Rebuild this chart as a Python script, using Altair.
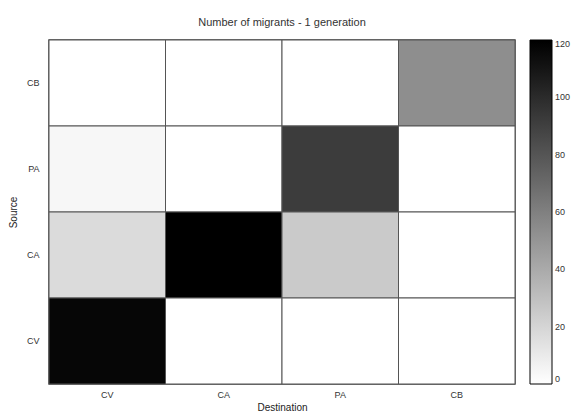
import altair as alt
import pandas as pd

destinations = ["CV", "CA", "PA", "CB"]
sources = ["CB", "PA", "CA", "CV"]  # top to bottom
# migrants[source][destination]
mig_CB = [0, 0, 0, 53]
mig_PA = [4, 0, 92, 0]
mig_CA = [17, 120, 25, 0]
mig_CV = [117, 0, 0, 0]
matrix = [mig_CB, mig_PA, mig_CA, mig_CV]
color_ticks = [0, 20, 40, 60, 80, 100, 120]

rows = []
for s, vals in zip(sources, matrix):
    for d, v in zip(destinations, vals):
        rows.append({"Source": s, "Destination": d, "Migrants": v})
df = pd.DataFrame(rows)

chart = alt.Chart(df).mark_rect(stroke="#555555", strokeWidth=1).encode(
    x=alt.X("Destination:N", sort=destinations,
            axis=alt.Axis(title="Destination", labelAngle=0, ticks=False,
                          labelPadding=6, titlePadding=3, domain=False)),
    y=alt.Y("Source:N", sort=sources,
            axis=alt.Axis(title="Source", ticks=False, labelPadding=10,
                          titlePadding=8, domain=False)),
    color=alt.Color("Migrants:Q",
                    scale=alt.Scale(domain=[0, 120], range=["#ffffff", "#000000"],
                                    interpolate="rgb"),
                    legend=alt.Legend(title=None, values=color_ticks,
                                      gradientLength=344, gradientThickness=22,
                                      gradientStrokeColor="#000000", gradientStrokeWidth=1,
                                      offset=15, labelFontSize=9, labelColor="#333333",
                                      labelOffset=3, padding=0)),
).properties(
    width=466, height=344,
    title=alt.TitleParams("Number of migrants - 1 generation", fontSize=11,
                          fontWeight="normal", color="#333333", font="Liberation Sans",
                          offset=12),
    padding={"left": 0, "top": 8, "right": 0, "bottom": 0},
).configure_view(stroke="#444444", strokeWidth=1.5).configure_axis(
    labelFontSize=9, labelColor="#333333", titleFontSize=10, titleFontWeight="normal",
    titleColor="#222222", labelFont="Liberation Sans", titleFont="Liberation Sans", grid=False
).configure_legend(labelFont="Liberation Sans")

chart.save("out.html", embed_options={"renderer": "svg", "actions": False})
